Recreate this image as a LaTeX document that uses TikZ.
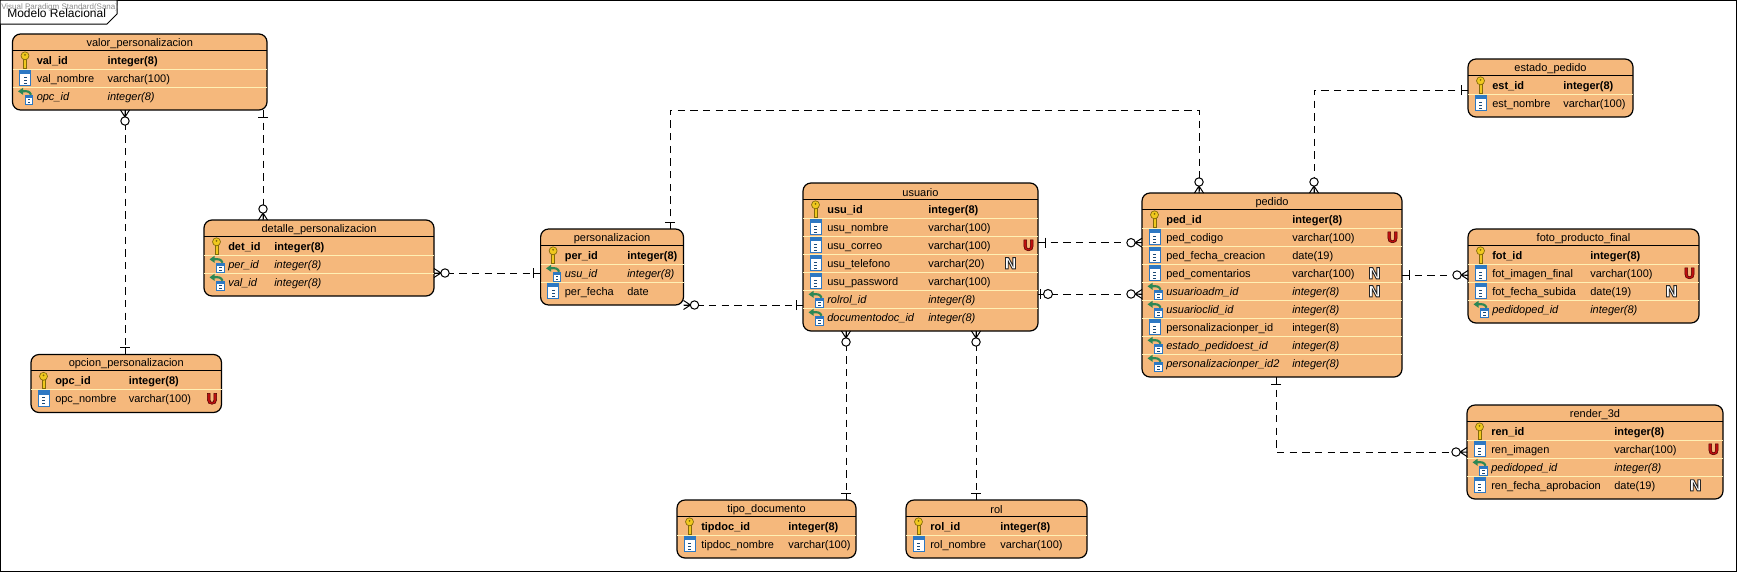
\documentclass[tikz,border=0pt]{standalone}
\usepackage{fontspec}
\setmainfont{Liberation Sans}
\newfontfamily\flagfont{DejaVu Sans}
\usetikzlibrary{calc}
\definecolor{tablecolor}{RGB}{245,184,124}
\definecolor{rulecolor}{RGB}{255,240,180}
\definecolor{keycolor}{RGB}{240,200,30}
\definecolor{keyedge}{RGB}{130,105,10}
\definecolor{columncolor}{RGB}{45,120,195}
\definecolor{arrowcolor}{RGB}{45,135,85}
\definecolor{uniquecolor}{RGB}{190,15,15}

% Letters with a dark outline, for unique and nullable columns
\newcommand{\outlined}[2]{\special{pdf:literal direct 2 Tr #1 RG}#2\special{pdf:literal direct 0 Tr}}

\tikzset{
  tablebox/.style={draw, fill=tablecolor, line width=0.9pt, rounded corners=6pt, inner sep=0pt, outer sep=0pt},
  titletext/.style={inner sep=0pt, font=\fontsize{8.25}{10}\selectfont},
  pkrow/.style={anchor=base west, inner sep=0pt, font=\fontsize{8.25}{10}\selectfont\bfseries},
  colrow/.style={anchor=base west, inner sep=0pt, font=\fontsize{8.25}{10}\selectfont},
  fkrow/.style={anchor=base west, inner sep=0pt, font=\fontsize{8.25}{10}\selectfont\itshape},
  flagU/.style={inner sep=0pt, text=uniquecolor, font=\fontsize{11}{12}\flagfont\bfseries},
  flagN/.style={inner sep=0pt, text=white, font=\fontsize{11.5}{12}\flagfont\bfseries},
  rel/.style={line width=0.75pt, dash pattern=on 5.5pt off 4pt},
  mark line/.style={line width=0.75pt, solid},
  % Icons of the rows
  pics/pkicon/.style={code={
    \fill[keycolor, draw=keyedge, line width=0.4pt] (-1.5,-2) rectangle (1.5,7.5);
    \draw[draw=keyedge, fill=keycolor, line width=0.5pt] (0,-4.5) circle (4);
    \fill[keyedge] (0,-5.5) circle (1);
  }},
  pics/colicon/.style={code={
    \draw[columncolor, fill=white, line width=0.6pt] (-5.5,-8) rectangle (5.5,7.5);
    \fill[columncolor] (-5.5,-8) rectangle (5.5,-4);
    \foreach \d in {-1,2,5} \fill[columncolor!60!black] (-1.5,\d-0.6) rectangle (1.5,\d+0.6);
  }},
  pics/fkicon/.style={code={
    \draw[columncolor, fill=white, line width=0.5pt] (0,-1) rectangle (7.5,8);
    \fill[columncolor] (0,-1) rectangle (7.5,1.5);
    \foreach \d in {3,6} \fill[columncolor!60!black] (2.5,\d-0.5) rectangle (5,\d+0.5);
    \draw[arrowcolor, line width=1.6pt] (6,-1.5) .. controls (5,-5) and (2,-5.5) .. (-2.5,-5);
    \fill[arrowcolor] (-7,-5) -- (-2,-8.5) -- (-2,-1.5) -- cycle;
  }},
  % Ends of the relations, drawn pointing away from the table
  pics/zeromany/.style={code={
    \draw[mark line] (0,-4.5) -- (7,0) -- (0,4.5) (0,0) -- (7,0);
    \draw[mark line, fill=white] (11,0) circle (4.2);
  }},
  pics/zeroone/.style={code={
    \draw[mark line] (0,0) -- (2,0) (2,-5) -- (2,5);
    \draw[mark line, fill=white] (10,0) circle (4.5);
  }},
  pics/onebar/.style={code={
    \draw[mark line] (0,0) -- (7,0) (7,-5) -- (7,5);
  }},
}

% id, title, left, top, right, number of rows, x of the types, rows
\newcommand{\dbtable}[8]{
  \pgfmathsetmacro{\boxw}{(#5-#3)*0.75}
  \pgfmathsetmacro{\boxh}{(22+18*#6)*0.75}
  \node[tablebox, minimum width=\boxw pt, minimum height=\boxh pt] (#1) at ({(#3+#5)/2},{#4+11+9*#6}) {};
  \node[titletext] (#1-title) at ({(#3+#5)/2},{#4+9.5}) {#2};
  \draw[line width=0.75pt] (#3,#4+16) -- (#5,#4+16);
  \foreach \kind/\colname/\coltype/\flag [count=\i] in {#8} {
    \ifnum\i<#6
      \draw[rulecolor, line width=0.75pt] (#3,#4+17.3+18*\i) -- (#5,#4+17.3+18*\i);
    \fi
    \pic at (#3+12.5,#4+26.3+18*\i-18) {\kind icon};
    \node[\kind row] (#1-\i-name) at (#3+24,#4+30.3+18*\i-18) {\colname};
    \node[\kind row] (#1-\i-type) at (#7,#4+30.3+18*\i-18) {\coltype};
    \ifx\flag\flagunique
      \node[flagU] (#1-\i-flag) at (#5-9.5,#4+26.3+18*\i-18) {\outlined{0.4 w 0.3 0 0}{U}};
    \fi
    \ifx\flag\flagnull
      \node[flagN] (#1-\i-flag) at (#5-27.5,#4+26.3+18*\i-18) {\outlined{0.7 w 0.15 0.15 0.15}{N}};
    \fi
  }
}
\def\flagunique{U}
\def\flagnull{N}
\tikzset{pk row/.style={pkrow}, col row/.style={colrow}, fk row/.style={fkrow},
  pics/pk icon/.style={pkicon}, pics/col icon/.style={colicon}, pics/fk icon/.style={fkicon}}

\begin{document}
\begin{tikzpicture}[x=0.75pt, y=-0.75pt]
\useasboundingbox (0,0) rectangle (1737,572);

% Frame and tab of the diagram
\draw[fill=white, line width=0.75pt] (0.5,0.5) rectangle (1736.5,571.5);
\draw[fill=white, line width=0.75pt] (0,0) -- (117,0) -- (117,14) -- (107,24) -- (0,24) -- cycle;
\node[anchor=base west, inner sep=0pt, font=\fontsize{9}{10}\selectfont] (diagramname) at (7,17.5) {Modelo Relacional};
\node[anchor=base west, inner sep=0pt, text=black!45, font=\fontsize{6}{7}\selectfont] (edition) at (1,9) {Visual Paradigm Standard(Sana)};

% Tables
\dbtable{valor}{valor\_personalizacion}{12.5}{34}{267}{3}{107.3}{
  pk/val\_id/integer(8)/-, col/val\_nombre/varchar(100)/-, fk/opc\_id/integer(8)/-}
\dbtable{detalle}{detalle\_personalizacion}{204}{220}{434}{3}{274}{
  pk/det\_id/integer(8)/-, fk/per\_id/integer(8)/-, fk/val\_id/integer(8)/-}
\dbtable{opcion}{opcion\_personalizacion}{31}{354.5}{221.5}{2}{128.5}{
  pk/opc\_id/integer(8)/-, col/opc\_nombre/varchar(100)/U}
\dbtable{personal}{personalizacion}{540.6}{229}{683.5}{3}{627}{
  pk/per\_id/integer(8)/-, fk/usu\_id/integer(8)/-, col/per\_fecha/date/-}
\dbtable{usuario}{usuario}{803}{183}{1038}{7}{928}{
  pk/usu\_id/integer(8)/-, col/usu\_nombre/varchar(100)/-, col/usu\_correo/varchar(100)/U,
  col/usu\_telefono/varchar(20)/N, col/usu\_password/varchar(100)/-,
  fk/rolrol\_id/integer(8)/-, fk/documentodoc\_id/integer(8)/-}
\dbtable{pedido}{pedido}{1142}{193}{1402}{9}{1292}{
  pk/ped\_id/integer(8)/-, col/ped\_codigo/varchar(100)/U, col/ped\_fecha\_creacion/date(19)/-,
  col/ped\_comentarios/varchar(100)/N, fk/usuarioadm\_id/integer(8)/N, fk/usuarioclid\_id/integer(8)/-,
  col/personalizacionper\_id/integer(8)/-, fk/estado\_pedidoest\_id/integer(8)/-,
  fk/personalizacionper\_id2/integer(8)/-}
\dbtable{estado}{estado\_pedido}{1468}{59}{1633}{2}{1563}{
  pk/est\_id/integer(8)/-, col/est\_nombre/varchar(100)/-}
\dbtable{foto}{foto\_producto\_final}{1468}{229}{1699}{4}{1590}{
  pk/fot\_id/integer(8)/-, col/fot\_imagen\_final/varchar(100)/U, col/fot\_fecha\_subida/date(19)/N,
  fk/pedidoped\_id/integer(8)/-}
\dbtable{render}{render\_3d}{1467}{405}{1723}{4}{1614}{
  pk/ren\_id/integer(8)/-, col/ren\_imagen/varchar(100)/U, fk/pedidoped\_id/integer(8)/-,
  col/ren\_fecha\_aprobacion/date(19)/N}
\dbtable{tipo}{tipo\_documento}{677}{500}{856}{2}{788}{
  pk/tipdoc\_id/integer(8)/-, col/tipdoc\_nombre/varchar(100)/-}
\dbtable{rol}{rol}{906}{500}{1087}{2}{1000}{
  pk/rol\_id/integer(8)/-, col/rol\_nombre/varchar(100)/-}

% Ends of the relations on the tables
\coordinate (valorA) at ($(valor.south)+(-14.75,0)$);
\coordinate (valorB) at ($(valor.south)+(123.25,0)$);
\coordinate (detalleE) at ($(detalle.east)+(0,15)$);
\coordinate (personalN) at ($(personal.north)+(58,0)$);
\coordinate (personalC) at (personal.south east);
\coordinate (pedidoA) at ($(pedido.north)+(-73,0)$);
\coordinate (pedidoB) at ($(pedido.north)+(42,0)$);
\coordinate (pedidoE) at ($(pedido.east)+(0,-10)$);
\coordinate (pedidoS) at ($(pedido.south)+(4,0)$);
\coordinate (estadoW) at ($(estado.west)+(0,2)$);
\coordinate (usuarioA) at ($(usuario.east)+(0,-14.3)$);
\coordinate (usuarioB) at ($(usuario.east)+(0,37)$);
\coordinate (usuarioC) at ($(usuario.south)+(-74.5,0)$);
\coordinate (usuarioD) at ($(usuario.south)+(55.5,0)$);

% Relations
\draw[rel] (valorA) -- (valorA |- opcion.north);
\draw[rel] (valorB) -- (valorB |- detalle.north);
\draw[rel] (detalleE) -- (detalleE -| personal.west);
\draw[rel] (personalC) -- (personalC -| usuario.west);
\draw[rel] (personalN) -- ++(0,-119) -| (pedidoA);
\draw[rel] (estadoW) -| (pedidoB);
\draw[rel] (usuarioA) -- (usuarioA -| pedido.west);
\draw[rel] (usuarioB) -- (usuarioB -| pedido.west);
\draw[rel] (pedidoE) -- (pedidoE -| foto.west);
\draw[rel] (pedidoS) |- (render.west);
\draw[rel] (usuarioC) -- (usuarioC |- tipo.north);
\draw[rel] (usuarioD) -- (usuarioD |- rol.north);

% Marks at the ends
\pic[rotate=-90] at (valorA) {zeromany};
\pic[rotate=90] at (valorA |- opcion.north) {onebar};
\pic[rotate=-90] at (valorB) {onebar};
\pic[rotate=90] at (valorB |- detalle.north) {zeromany};
\pic at (detalleE) {zeromany};
\pic[rotate=180] at (detalleE -| personal.west) {onebar};
\pic at (personalC) {zeromany};
\pic[rotate=180] at (personalC -| usuario.west) {onebar};
\pic[rotate=90] at (personalN) {onebar};
\pic[rotate=90] at (pedidoA) {zeromany};
\pic[rotate=180] at (estadoW) {onebar};
\pic[rotate=90] at (pedidoB) {zeromany};
\pic at (usuarioA) {onebar};
\pic[rotate=180] at (usuarioA -| pedido.west) {zeromany};
\pic at (usuarioB) {zeroone};
\pic[rotate=180] at (usuarioB -| pedido.west) {zeromany};
\pic at (pedidoE) {onebar};
\pic[rotate=180] at (pedidoE -| foto.west) {zeromany};
\pic[rotate=-90] at (pedidoS) {onebar};
\pic[rotate=180] at (render.west) {zeromany};
\pic[rotate=-90] at (usuarioC) {zeromany};
\pic[rotate=90] at (usuarioC |- tipo.north) {onebar};
\pic[rotate=-90] at (usuarioD) {zeromany};
\pic[rotate=90] at (usuarioD |- rol.north) {onebar};

\end{tikzpicture}
\end{document}
